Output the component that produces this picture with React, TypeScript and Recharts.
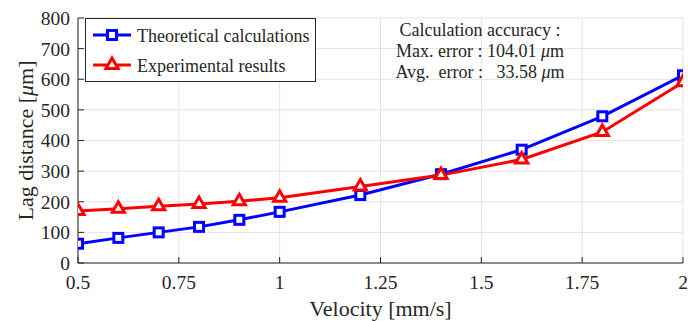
import React from 'react';
import { LineChart, Line, XAxis, YAxis, CartesianGrid } from 'recharts';

const velocity = [0.5, 0.6, 0.7, 0.8, 0.9, 1.0, 1.2, 1.4, 1.6, 1.8, 2.0];
const theoretical = [63, 82, 100, 118, 141, 167, 222, 290, 370, 479, 613];
const experimental = [170, 177, 185, 193, 202, 213, 250, 287, 338, 428, 590];
const xTicks = [0.5, 0.75, 1, 1.25, 1.5, 1.75, 2];
const yTicks = [0, 100, 200, 300, 400, 500, 600, 700, 800];
const seriesNames = ['Theoretical calculations', 'Experimental results'];
const xLabel = 'Velocity [mm/s]';
const yLabelParts = ['Lag distance [', 'μ', 'm]'];
const annotation = [
  ['Calculation accuracy :', '', ''],
  ['Max. error : 104.01 ', 'μ', 'm'],
  ['Avg.  error :   33.58 ', 'μ', 'm'],
];

const data = velocity.map((v, i) => ({ v, theo: theoretical[i], exp: experimental[i] }));

const FONT = '"Liberation Serif", serif';
const BLUE = '#0000ff';
const RED = '#ff0000';
const AX = '#262626';

const Square = (props: any) => {
  const { cx, cy, index } = props;
  if (cx == null || cy == null) return <g key={index} />;
  return (
    <rect key={index} x={cx - 4.5} y={cy - 4.5} width={9} height={9} fill="#fff" stroke={BLUE} strokeWidth={3} />
  );
};

const Tri = (props: any) => {
  const { cx, cy, index } = props;
  if (cx == null || cy == null) return <g key={index} />;
  return (
    <path
      key={index}
      d={`M${cx},${cy - 7}L${cx + 6.06},${cy + 3.5}L${cx - 6.06},${cy + 3.5}Z`}
      fill="#fff"
      stroke={RED}
      strokeWidth={3}
      strokeLinejoin="miter"
    />
  );
};

const XLabel = (props: any) => {
  const vb = props.viewBox || {};
  return (
    <text x={vb.x + vb.width / 2} y={vb.y + 45} textAnchor="middle" dominantBaseline="central" fontSize={22} fill={AX} fontFamily={FONT}>
      {xLabel}
    </text>
  );
};

const YLabel = (props: any) => {
  const vb = props.viewBox || {};
  const cx = 25;
  const cy = vb.y + vb.height / 2;
  return (
    <text x={cx} y={cy} transform={`rotate(-90 ${cx} ${cy})`} textAnchor="middle" dominantBaseline="central" fontSize={22} fill={AX} fontFamily={FONT}>
      {yLabelParts[0]}
      <tspan fontStyle="italic">{yLabelParts[1]}</tspan>
      {yLabelParts[2]}
    </text>
  );
};

export default function App() {
  return (
    <div style={{ position: 'absolute', left: 0, top: 0, width: 688, height: 321, background: '#fff', fontFamily: FONT }}>
      <style>{'body{margin:0;background:#fff}'}</style>
      <LineChart width={688} height={321} data={data} margin={{ top: 18, right: 5, left: 0, bottom: 0 }}>
        <CartesianGrid stroke="#e3e3e3" strokeWidth={1} />
        <XAxis
          dataKey="v"
          type="number"
          domain={[0.5, 2]}
          ticks={xTicks}
          interval={0}
          allowDataOverflow
          height={58}
          tickSize={-6}
          tickMargin={18}
          stroke={AX}
          tick={{ fontSize: 19.5, fill: AX, fontFamily: FONT }}
          label={<XLabel />}
        />
        <XAxis
          xAxisId="top"
          orientation="top"
          dataKey="v"
          type="number"
          domain={[0.5, 2]}
          ticks={xTicks}
          interval={0}
          allowDataOverflow
          height={0}
          tickSize={-6}
          stroke={AX}
          tick={false}
        />
        <YAxis
          type="number"
          domain={[0, 800]}
          ticks={yTicks}
          interval={0}
          allowDataOverflow
          width={78}
          tickSize={-6}
          tickMargin={14}
          stroke={AX}
          tick={{ fontSize: 19.5, fill: AX, fontFamily: FONT }}
          label={<YLabel />}
        />
        <YAxis
          yAxisId="right"
          orientation="right"
          type="number"
          domain={[0, 800]}
          ticks={yTicks}
          interval={0}
          allowDataOverflow
          width={0}
          tickSize={-6}
          stroke={AX}
          tick={false}
        />
        <Line dataKey="theo" name={seriesNames[0]} stroke={BLUE} strokeWidth={3} dot={Square} activeDot={false} isAnimationActive={false} />
        <Line dataKey="exp" name={seriesNames[1]} stroke={RED} strokeWidth={3} dot={Tri} activeDot={false} isAnimationActive={false} />
      </LineChart>

      <svg width={688} height={321} style={{ position: 'absolute', left: 0, top: 0, pointerEvents: 'none' }} fontFamily={FONT}>
        <g transform="translate(85,18)">
          <rect x={0.5} y={0.5} width={230} height={63} fill="#fff" stroke={AX} strokeWidth={1} />
          <line x1={8} x2={46} y1={17} y2={17} stroke={BLUE} strokeWidth={3} />
          <rect x={27 - 4.5} y={17 - 4.5} width={9} height={9} fill="#fff" stroke={BLUE} strokeWidth={3} />
          <text x={52} y={24} fontSize={18} fill={AX} fontFamily={FONT}>{seriesNames[0]}</text>
          <line x1={8} x2={46} y1={47} y2={47} stroke={RED} strokeWidth={3} />
          <path d={`M27,${47 - 7}L33.06,${47 + 3.5}L20.94,${47 + 3.5}Z`} fill="#fff" stroke={RED} strokeWidth={3} />
          <text x={52} y={53.5} fontSize={18} fill={AX} fontFamily={FONT}>{seriesNames[1]}</text>
        </g>
        {annotation.map((ln, i) => (
          <text key={i} x={480} y={36 + i * 21} textAnchor="middle" fontSize={18} fill={AX} fontFamily={FONT} style={{ whiteSpace: 'pre' }}>
            {ln[0]}
            {ln[1] ? <tspan fontStyle="italic">{ln[1]}</tspan> : null}
            {ln[2]}
          </text>
        ))}
      </svg>
    </div>
  );
}
